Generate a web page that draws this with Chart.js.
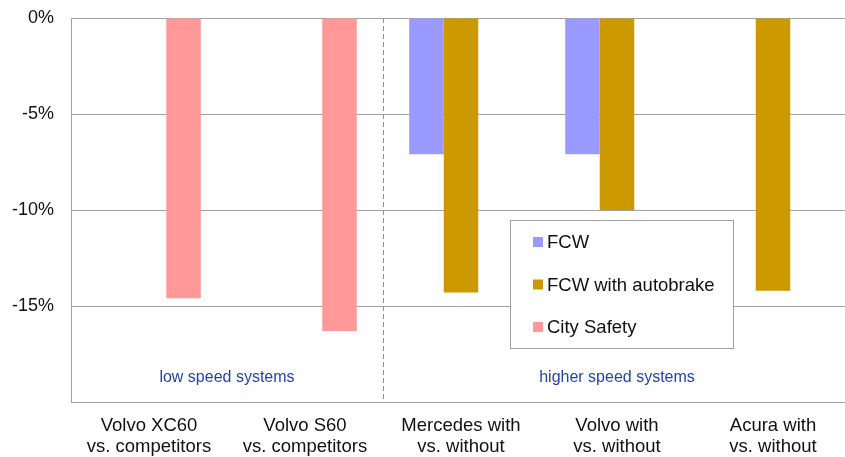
<!DOCTYPE html>
<html>
<head>
  <title>Crash reduction by system</title>
  <script src="https://cdn.jsdelivr.net/npm/chart.js"></script>
  <style>
    body { margin: 0; background: #fff; overflow: hidden; }
    #chart { display: block; }
  </style>
</head>
<body>

<canvas id="chart" width="860" height="457"></canvas>

<script>
const categories = [
  ['Volvo XC60', 'vs. competitors'],
  ['Volvo S60', 'vs. competitors'],
  ['Mercedes with', 'vs. without'],
  ['Volvo with', 'vs. without'],
  ['Acura with', 'vs. without']
];
const seriesNames = ['FCW', 'FCW with autobrake', 'City Safety'];
const fcw = [null, null, -7.1, -7.1, null];
const fcwAutobrake = [null, null, -14.3, -10.0, -14.2];
const citySafety = [-14.6, -16.3, null, null, null];
const groupLabels = ['low speed systems', 'higher speed systems'];

const FONT = 'Arial, "Liberation Sans", sans-serif';

// dashed divider, group captions and the boxed legend
const extras = {
  id: 'extras',
  beforeDatasetsDraw(chart) {
    const ctx = chart.ctx, x = chart.scales.x, a = chart.chartArea;
    const xd = Math.round(x.getPixelForValue(1.5)) + 0.5;
    ctx.save();
    ctx.strokeStyle = '#909090';
    ctx.lineWidth = 1;
    ctx.setLineDash([5, 3]);
    ctx.beginPath();
    ctx.moveTo(xd, a.top);
    ctx.lineTo(xd, a.bottom);
    ctx.stroke();
    ctx.restore();
  },
  afterDatasetsDraw(chart) {
    const ctx = chart.ctx, x = chart.scales.x, y = chart.scales.y, a = chart.chartArea;
    ctx.save();
    ctx.font = '16px ' + FONT;
    ctx.fillStyle = '#2244aa';
    ctx.textAlign = 'center';
    ctx.textBaseline = 'middle';
    ctx.fillText(groupLabels[0], x.getPixelForValue(0.5), y.getPixelForValue(-18.75));
    ctx.fillText(groupLabels[1], x.getPixelForValue(3), y.getPixelForValue(-18.75));

    // legend box
    const lx = a.left + 439, ly = a.top + 202, lw = 223, lh = 128;
    ctx.fillStyle = '#fff';
    ctx.fillRect(lx, ly, lw, lh);
    ctx.strokeStyle = '#a0a0a0';
    ctx.lineWidth = 1;
    ctx.strokeRect(lx + 0.5, ly + 0.5, lw, lh);
    ctx.font = '18.5px ' + FONT;
    ctx.textAlign = 'left';
    chart.data.datasets.forEach((ds, i) => {
      const cy = ly + 22 + i * 42.5;
      ctx.fillStyle = ds.backgroundColor;
      ctx.fillRect(lx + 23, cy - 5, 10, 10);
      ctx.fillStyle = '#111';
      ctx.fillText(ds.label, lx + 37, cy + 1);
    });
    ctx.restore();
  }
};

new Chart(document.getElementById('chart').getContext('2d'), {
  type: 'bar',
  data: {
    labels: categories,
    datasets: [
      { label: seriesNames[0], data: fcw, backgroundColor: '#9999ff' },
      { label: seriesNames[1], data: fcwAutobrake, backgroundColor: '#cc9900' },
      { label: seriesNames[2], data: citySafety, backgroundColor: '#ff9999' }
    ]
  },
  options: {
    responsive: false,
    animation: false,
    layout: { padding: { top: 18, right: 9, left: 0, bottom: 0 } },
    datasets: { bar: { barPercentage: 1, categoryPercentage: 0.664 } },
    plugins: { legend: { display: false }, tooltip: { enabled: false } },
    scales: {
      x: {
        grid: { display: false, drawTicks: false },
        border: { color: '#a0a0a0' },
        ticks: { color: '#111', font: { family: FONT, size: 18.5, lineHeight: 1.15 }, padding: 13, maxRotation: 0 },
        afterFit(s) { s.height = 55; s.paddingLeft = 0; s.paddingRight = 0; }
      },
      y: {
        min: -20, max: 0,
        grid: { color: '#a0a0a0', drawTicks: false },
        border: { color: '#a0a0a0' },
        ticks: {
          stepSize: 5,
          color: '#111',
          padding: 17,
          font: { family: FONT, size: 18 },
          callback: v => v === -20 ? '' : v + '%'
        },
        afterFit(s) { s.width = 71; s.paddingTop = 0; s.paddingBottom = 0; }
      }
    }
  },
  plugins: [extras]
});
</script>

</body>
</html>
